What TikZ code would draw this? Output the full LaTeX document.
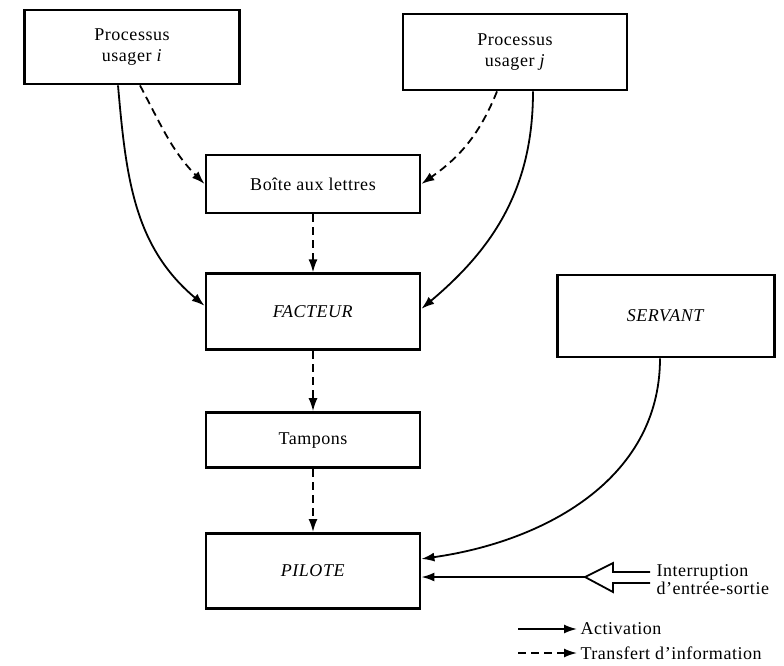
\documentclass[tikz,border=0pt]{standalone}
\usepackage{fontspec}
\setmainfont{Liberation Serif}[LetterSpace=3]
\usetikzlibrary{positioning}
\usetikzlibrary{arrows.meta}

\begin{document}
\begin{tikzpicture}[x=1pt, y=-1pt, font=\fontsize{18}{21}\selectfont,
		bloc/.style={draw, line width=2.8pt, align=center, minimum width=214pt},
		act/.style={-{Latex[length=13pt, width=9pt]}, line width=1.8pt},
		info/.style={act, dash pattern=on 8pt off 5pt}]
		\useasboundingbox (0,0) rectangle (784,665);
		% processus et servant
		\node[bloc, minimum width=215pt, minimum height=74pt] (Pi) at (132,47) {Processus\\usager \textit{i}};
		\node[bloc, minimum width=224pt, minimum height=76pt] (Pj) at (515,52) {Processus\\usager \textit{j}};
		\node[bloc, minimum width=217pt, minimum height=82pt] (S) at (666,316) {\textit{SERVANT}};
		% colonne du milieu
		\node[bloc, minimum height=58pt] (B) at (313,184) {Boîte aux lettres};
		\node[bloc, minimum height=76pt, below=58pt of B] (F) {\textit{FACTEUR}};
		\node[bloc, minimum height=55pt, below=60pt of F] (T) {Tampons};
		\node[bloc, minimum height=75pt, below=63pt of T] (P) {\textit{PILOTE}};
		% liaisons
		\draw[info] ([xshift=8pt]Pi.south) to[out=-62, in=135] (B.west);
		\draw[info] ([xshift=-18pt]Pj.south) to[out=-112, in=35] (B.east);
		\draw[act] ([xshift=-14pt]Pi.south) to[out=-85, in=140] ([yshift=6pt]F.west);
		\draw[act] ([xshift=18pt]Pj.south) to[out=-90, in=40] ([yshift=3pt]F.east);
		\draw[info] (B) -- (F);
		\draw[info] (F) -- (T);
		\draw[info] (T) -- (P);
		\draw[act] ([xshift=-6pt]S.south) to[out=-90, in=8] ([yshift=12pt]P.east);
		% interruption
		\coordinate (irq) at (585,577);
		\draw[line width=1.8pt] (650,572) -- (613,572) -- (613,563) -- (irq) -- (613,592) -- (613,583) -- (650,583);
		\node[anchor=west, align=left, font=\fontsize{18}{18}\selectfont] (I) at (653,580) {Interruption\\d'entrée-sortie};
		\draw[act] (irq) -- (irq -| P.east);
		% legende
		\node[anchor=west] (LA) at (577,629) {Activation};
		\node[anchor=west] (LT) at (577,653) {Transfert d'information};
		\coordinate (la) at (518,629);
		\coordinate (lt) at (518,653);
		\draw[act] (la) -- (LA.west);
		\draw[info] (lt) -- (LT.west);
		\end{tikzpicture}
\end{document}
